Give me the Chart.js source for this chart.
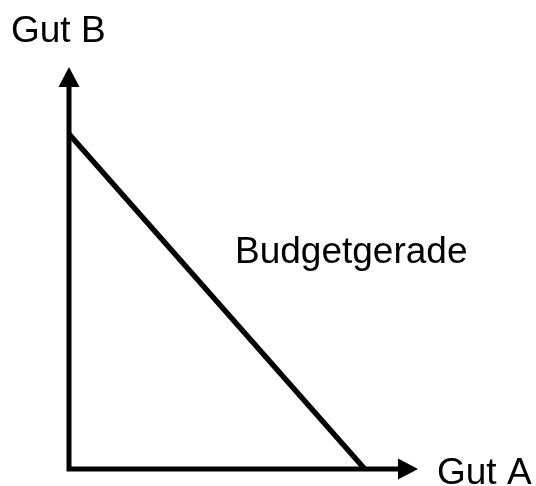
<!DOCTYPE html>
<html>
<head>
<meta charset="utf-8">
<script src="https://cdn.jsdelivr.net/npm/chart.js@4/dist/chart.umd.min.js"></script>
<style>
  html, body { margin: 0; padding: 0; background: #fff; }
  #wrap { width: 536px; height: 486px; }
</style>
</head>
<body>
<div id="wrap"><canvas id="myChart" width="536" height="486"></canvas></div>
<script>
// data
const axisTitles = ["Gut A", "Gut B"];
const budgetX = [0, 10];
const budgetY = [10, 0];
const lineLabel = "Budgetgerade";
const xRange = [0, 11.8];
const yRange = [0, 12];

const FONT = '37px "Liberation Sans", Arial, sans-serif';

// axes with arrow heads + the text labels
const axesPlugin = {
  id: "axesArrows",
  afterDatasetsDraw(chart) {
    const ctx = chart.ctx;
    const xs = chart.scales.x, ys = chart.scales.y;
    const x0 = xs.getPixelForValue(xRange[0]);
    const y0 = ys.getPixelForValue(yRange[0]);
    const xTip = xs.getPixelForValue(xRange[1]);
    const yTip = ys.getPixelForValue(yRange[1]);
    const head = 20, half = 10.5;

    ctx.save();
    ctx.strokeStyle = "#000";
    ctx.fillStyle = "#000";
    ctx.lineWidth = 5;
    ctx.lineJoin = "miter";
    ctx.lineCap = "butt";
    ctx.beginPath();
    ctx.moveTo(x0, yTip + head);
    ctx.lineTo(x0, y0);
    ctx.lineTo(xTip - head, y0);
    ctx.stroke();

    // arrow up
    ctx.beginPath();
    ctx.moveTo(x0, yTip);
    ctx.lineTo(x0 + half, yTip + head);
    ctx.lineTo(x0 - half, yTip + head);
    ctx.closePath();
    ctx.fill();
    // arrow right
    ctx.beginPath();
    ctx.moveTo(xTip, y0);
    ctx.lineTo(xTip - head, y0 - half);
    ctx.lineTo(xTip - head, y0 + half);
    ctx.closePath();
    ctx.fill();

    ctx.font = FONT;
    ctx.textBaseline = "alphabetic";
    ctx.textAlign = "left";
    ctx.fillText(axisTitles[0], xTip + 19, y0 + 15);
    ctx.fillText(axisTitles[1], 11, 42);
    ctx.fillText(lineLabel, 235, 263);
    ctx.restore();
  }
};

new Chart("myChart", {
  type: "line",
  data: {
    datasets: [{
      label: lineLabel,
      data: budgetX.map((x, i) => ({ x: x, y: budgetY[i] })),
      borderColor: "#000",
      borderWidth: 5.5,
      borderCapStyle: "butt",
      pointRadius: 0,
      fill: false,
      clip: false
    }]
  },
  options: {
    responsive: false,
    animation: false,
    layout: { padding: { left: 69, right: 118, top: 67, bottom: 17 } },
    scales: {
      x: { type: "linear", min: xRange[0], max: xRange[1], display: false },
      y: { type: "linear", min: yRange[0], max: yRange[1], display: false }
    },
    plugins: {
      legend: { display: false },
      tooltip: { enabled: false }
    }
  },
  plugins: [axesPlugin]
});
</script>
</body>
</html>
